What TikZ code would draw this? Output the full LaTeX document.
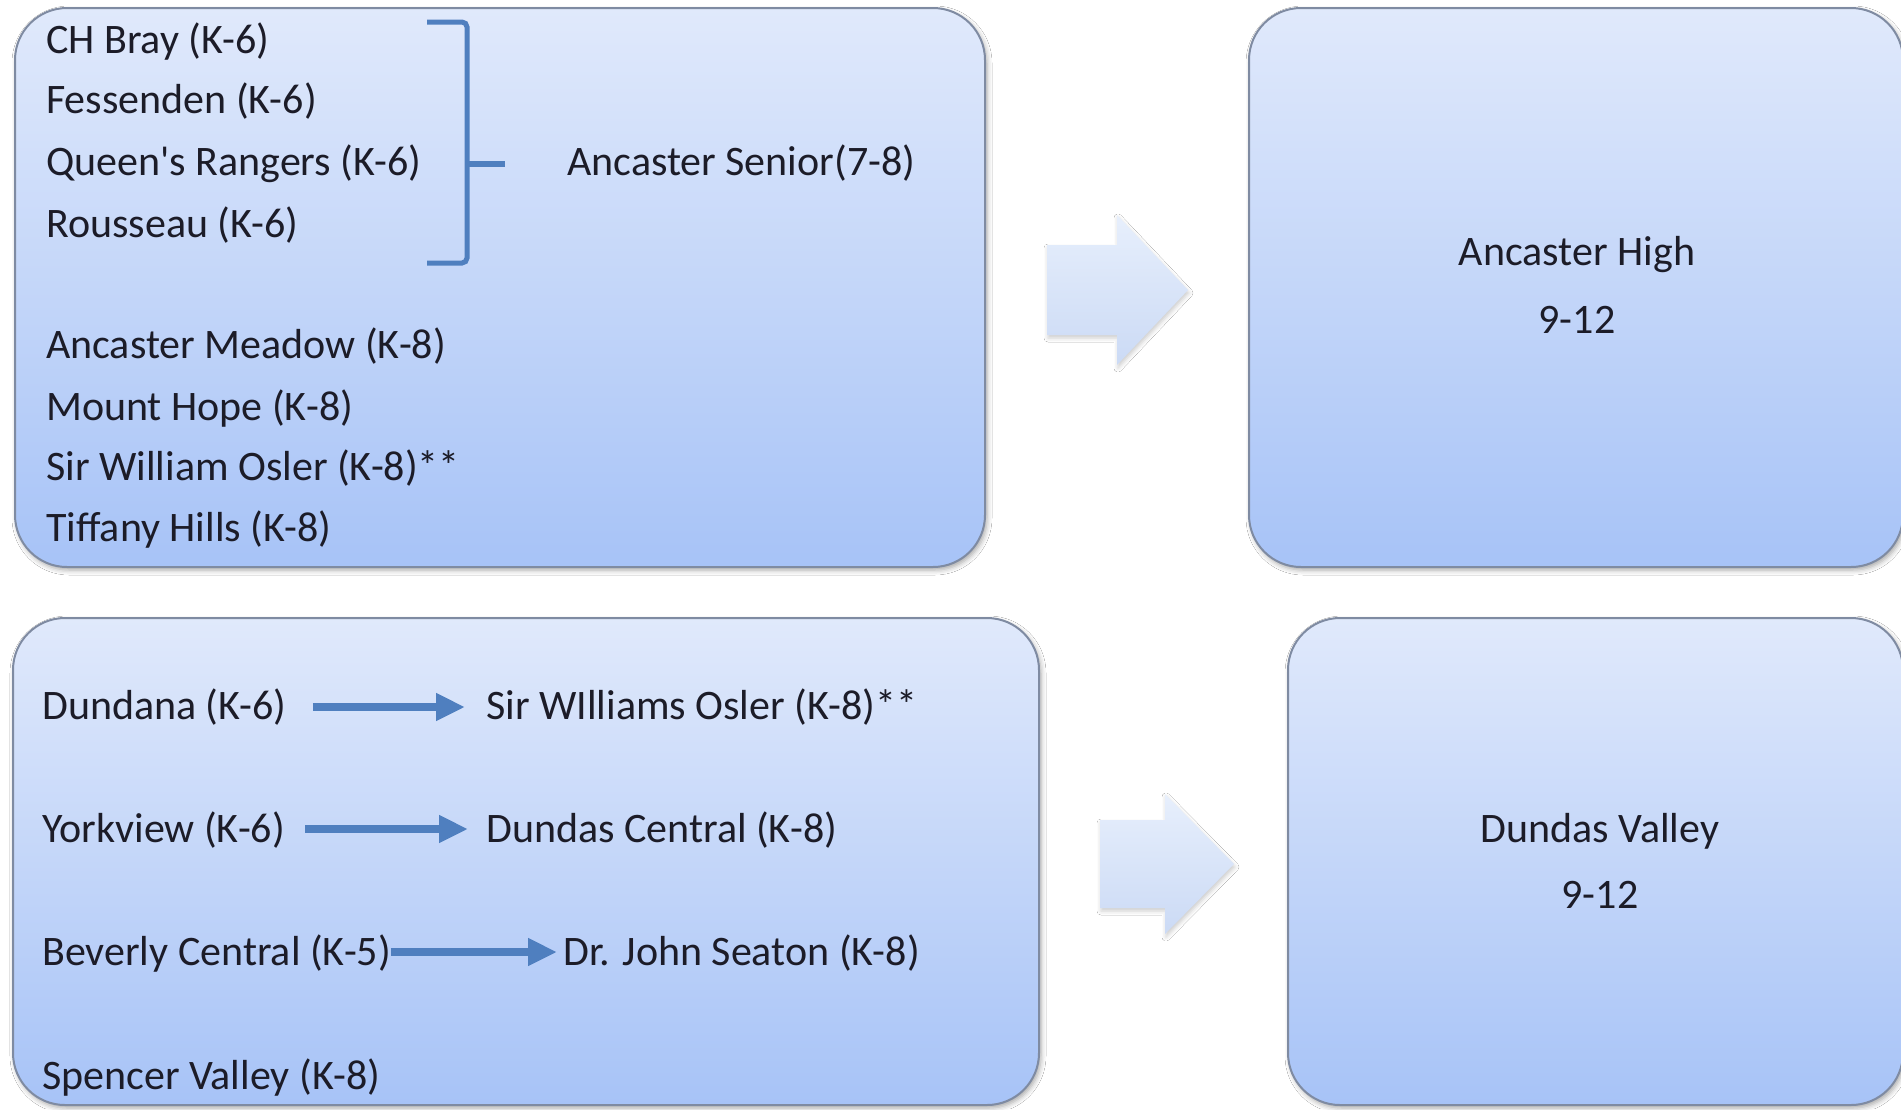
\documentclass[tikz,border=0pt]{standalone}
\usepackage{fontspec}
\setmainfont{Carlito}
\usetikzlibrary{arrows.meta,shadows.blur}
\definecolor{boxtop}{HTML}{E0E9FB}
\definecolor{boxbot}{HTML}{A7C3F7}
\definecolor{boxline}{HTML}{7F8BA2}
\definecolor{barrowtop}{HTML}{E7EFFC}
\definecolor{barrowbot}{HTML}{CBDAF5}
\definecolor{linkblue}{HTML}{4F7FBF}
\definecolor{inktext}{HTML}{1C1C28}
\tikzset{
  panel/.style={draw=boxline, line width=2pt, rounded corners=52pt,
    top color=boxtop, bottom color=boxbot, inner sep=0pt,
    blur shadow={shadow xshift=2pt, shadow yshift=-3pt, shadow blur radius=5pt, shadow opacity=35}},
  bigarrow/.style={top color=barrowtop, bottom color=barrowbot,
    blur shadow={shadow xshift=1pt, shadow yshift=-3pt, shadow blur radius=4pt, shadow opacity=20}},
  txt/.style={font=\fontsize{42}{50}\selectfont, text=inktext, inner sep=0pt, anchor=base west},
  ctxt/.style={font=\fontsize{42}{50}\selectfont, text=inktext, inner sep=0pt, anchor=base},
  link/.style={draw=linkblue, line width=8pt, -{Triangle[length=29pt,width=26pt]}},
  bracketline/.style={draw=linkblue, line width=5pt, rounded corners=5pt}
}
\begin{document}
\begin{tikzpicture}[x=1pt,y=-1pt]
\useasboundingbox (0,0) rectangle (1901,1109);
\fill[white] (0,0) rectangle (1901,1109);

% panels
\node[panel, minimum width=970pt, minimum height=559pt] (tl) at (500,287.5) {};
\node[panel, minimum width=654pt, minimum height=559pt] (tr) at (1576,287.5) {};
\node[panel, minimum width=1026pt, minimum height=487pt] (bl) at (526,861.5) {};
\node[panel, minimum width=615pt, minimum height=487pt] (br) at (1595.5,861.5) {};

% block arrows
\path[bigarrow] (1047,245) -- (1117,245) -- (1117,215) -- (1188,290) -- (1117,365) -- (1117,335) -- (1047,335) -- cycle;
\path[bigarrow] (1100,820) -- (1165,820) -- (1165,794) -- (1234,864) -- (1165,934) -- (1165,908) -- (1100,908) -- cycle;

% top-left texts
\node[txt] (chb) at (46,53) {CH Bray (K-6)};
\node[txt] (fes) at (46,113) {Fessenden (K-6)};
\node[txt] (qr) at (46,175) {Queen\textquotesingle s Rangers (K-6)};
\node[txt] (rou) at (46,237) {Rousseau (K-6)};
\node[txt] (ams) at (567,175) {Ancaster Senior(7-8)};
\node[txt] (amd) at (46,358) {Ancaster Meadow (K-8)};
\node[txt] (mh) at (46,420) {Mount Hope (K-8)};
\node[txt] (swo1) at (46,480) {Sir William Osler (K-8)**};
\node[txt] (th) at (46,541) {Tiffany Hills (K-8)};

% bracket
\draw[bracketline] (427,22) -- (467,22) -- (467,263) -- (427,263);
\draw[draw=linkblue, line width=6pt] (467,164) -- (505,164);

% top-right texts
\node[ctxt] (ah) at (1577,265) {Ancaster High};
\node[ctxt] (ahg) at (1577,333) {9-12};

% bottom-left texts
\node[txt] (dund) at (42,719) {Dundana (K-6)};
\node[txt] (swo) at (486,719) {Sir WIlliams Osler (K-8)**};
\node[txt] (york) at (42,842) {Yorkview (K-6)};
\node[txt] (dc) at (486,842) {Dundas Central (K-8)};
\node[txt] (bev) at (42,965) {Beverly Central (K-5)};
\node[txt] (drj) at (563,965) {Dr. John Seaton (K-8)};
\node[txt] (spv) at (42,1089) {Spencer Valley (K-8)};

% links
\draw[link] ([xshift=26pt,yshift=12pt]dund.base east) -- ([xshift=-21pt,yshift=12pt]swo.base west);
\draw[link] ([xshift=20pt,yshift=13pt]york.base east) -- ([xshift=-18pt,yshift=13pt]dc.base west);
\draw[link] ([xshift=0pt,yshift=13pt]bev.base east) -- ([xshift=-6pt,yshift=13pt]drj.base west);

% bottom-right texts
\node[ctxt] (dv) at (1600,842) {Dundas Valley};
\node[ctxt] (dvg) at (1600,908) {9-12};
\end{tikzpicture}
\end{document}
